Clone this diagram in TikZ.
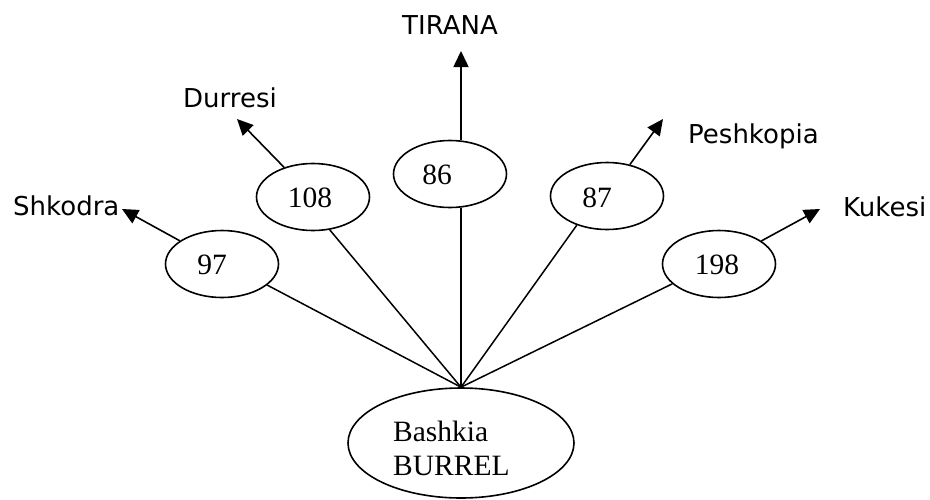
\documentclass[tikz,border=0pt]{standalone}
\usepackage{fontspec}
\setmainfont{Liberation Serif}
\newfontfamily\labfont{DejaVu Sans}
\usetikzlibrary{shapes.geometric,arrows.meta}
\tikzset{
  oval/.style={draw, ellipse, line width=1.6pt, inner sep=0pt, minimum width=113pt, minimum height=67pt},
  bigoval/.style={draw, ellipse, line width=1.6pt, inner sep=0pt, minimum width=226pt, minimum height=110pt},
  num/.style={inner sep=0pt, font=\fontsize{29.5}{34}\selectfont},
  city/.style={inner sep=0pt, anchor=base west, font=\labfont\fontsize{26}{31}\selectfont},
  link/.style={line width=1.5pt},
  arrowline/.style={line width=1.6pt, -{Triangle[length=16pt,width=15pt]}}
}
\begin{document}
\begin{tikzpicture}[x=1pt,y=-1pt]
\useasboundingbox (0,0) rectangle (930,499);
% ellipses
\node[oval] (e97) at (222,264) {};
\node[oval] (e108) at (313,197) {};
\node[oval] (e86) at (450,174) {};
\node[oval] (e87) at (607,196) {};
\node[oval] (e198) at (719,264) {};
\node[bigoval] (eB) at (461,443) {};
% numbers
\node[num] (t97) at (212,265) {97};
\node[num] (t108) at (310,198) {108};
\node[num] (t86) at (437,175) {86};
\node[num] (t87) at (597,198) {87};
\node[num] (t198) at (717,265) {198};
\node[num, anchor=west, align=left] (tB) at (393,448) {Bashkia\\BURREL};
% city labels
\node[city] (shk) at (13,215) {Shkodra};
\node[city] (dur) at (183,107) {Durresi};
\node[city] (tir) at (402,34) {TIRANA};
\node[city] (pes) at (688,143) {Peshkopia};
\node[city] (kuk) at (843,216) {Kukesi};
% arrow tips
\coordinate (a97) at (122,209);
\coordinate (a108) at (237,119);
\coordinate (a86) at (461,51);
\coordinate (a87) at (663,119);
\coordinate (a198) at (820,209);
% links from hub
\draw[link] (eB.north) -- (e97.335);
\draw[link] (eB.north) -- (e108.297);
\draw[link] (eB.north) -- (eB.north |- e86.south);
\draw[link] (eB.north) -- (e87.224);
\draw[link] (eB.north) -- (e198.203);
% arrows
\draw[arrowline] (e97) -- (a97);
\draw[arrowline] (e108) -- (a108);
\draw[arrowline] (a86 |- e86.north) -- (a86);
\draw[arrowline] (e87) -- (a87);
\draw[arrowline] (e198) -- (a198);
\end{tikzpicture}
\end{document}
